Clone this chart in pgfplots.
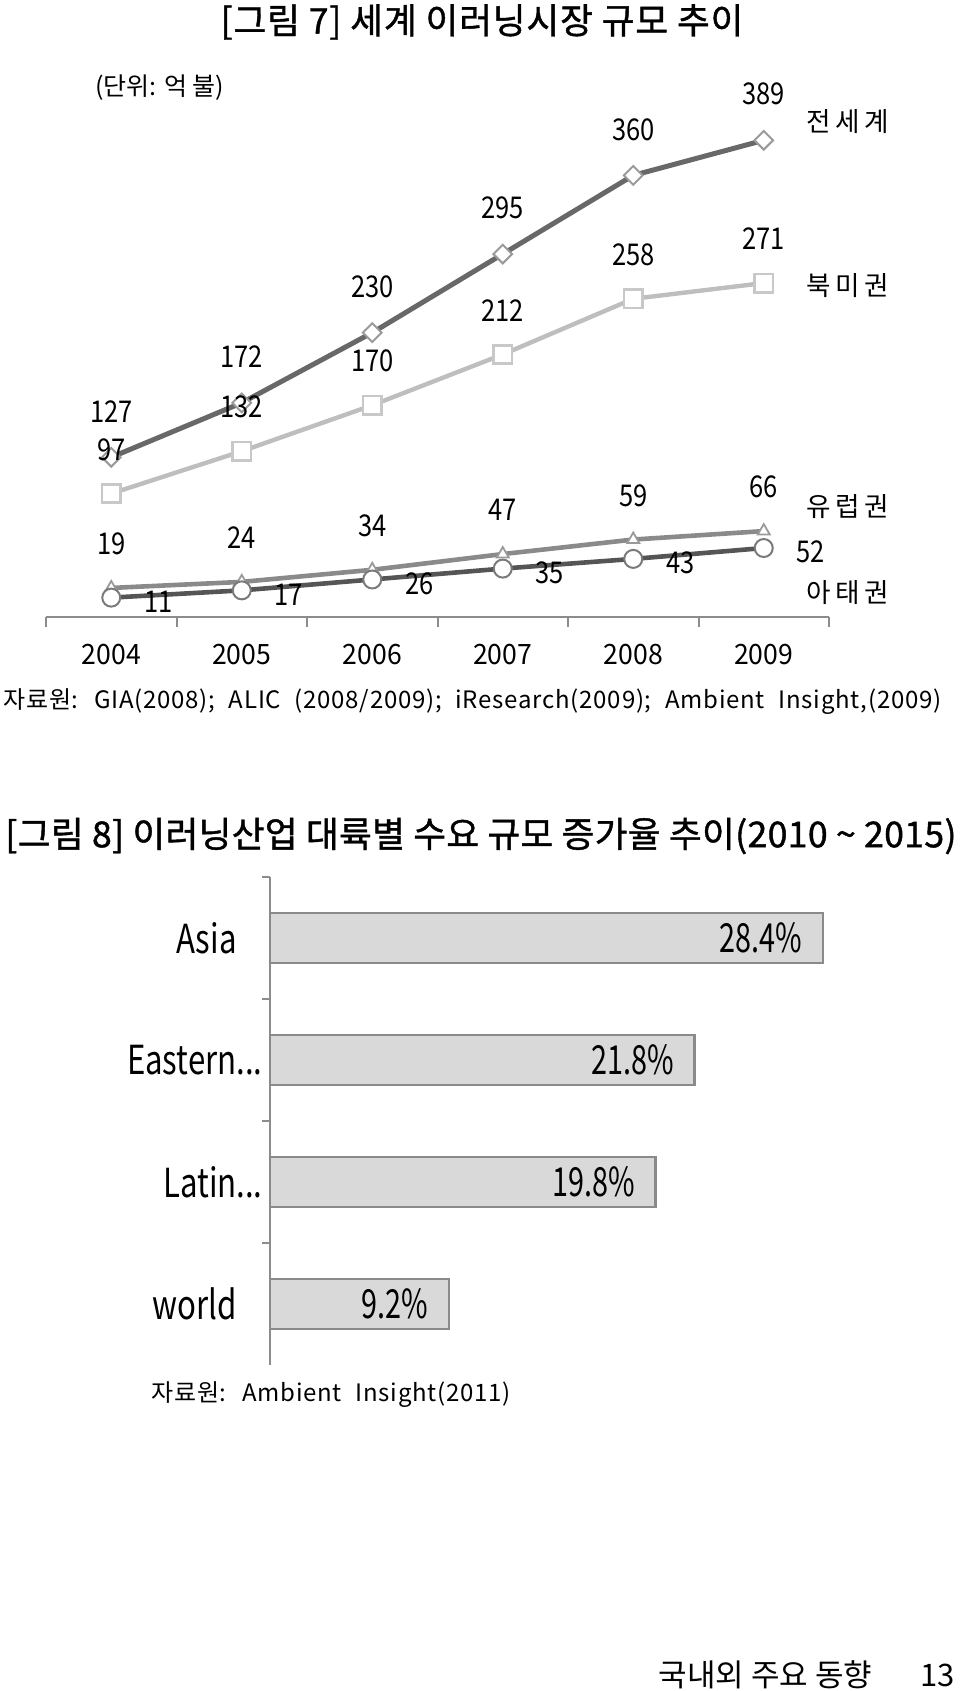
\documentclass[border=0pt]{standalone}
\usepackage{fontspec}
\usepackage{pgfplots}
\pgfplotsset{compat=1.18}
\setmainfont{Noto Sans CJK KR}
\newfontfamily\titlefont[FakeBold=1.2, LetterSpace=1]{Noto Sans CJK KR}
\newfontfamily\titlefontA[FakeBold=1.2, LetterSpace=2.5]{Noto Sans CJK KR}
\newfontfamily\numfont[FakeStretch=0.85]{Noto Sans CJK KR}
\newfontfamily\tickfont[FakeStretch=0.95]{Noto Sans CJK KR}
\newfontfamily\barfont[FakeStretch=0.72]{Noto Sans CJK KR}
\newfontfamily\catfont[FakeStretch=0.78]{Noto Sans CJK KR}
\newfontfamily\srcfont[LetterSpace=3.2, WordSpace=2.2]{Noto Sans CJK KR}
\definecolor{cWorld}{HTML}{686868}
\definecolor{cWorldM}{HTML}{9A9A9A}
\definecolor{cNA}{HTML}{BEBEBE}
\definecolor{cNAM}{HTML}{C8C8C8}
\definecolor{cEu}{HTML}{8A8A8A}
\definecolor{cEuM}{HTML}{9A9A9A}
\definecolor{cAP}{HTML}{555555}
\definecolor{cAPM}{HTML}{7A7A7A}
\definecolor{cAxis}{HTML}{8C8C8C}
\definecolor{cBar}{HTML}{D9D9D9}
\definecolor{cBarEdge}{HTML}{8A8A8A}
\begin{document}
\begin{tikzpicture}
\useasboundingbox (0,0) rectangle (480pt,845.5pt);
% ---- Figure 7 ----
\node[font=\titlefontA\fontsize{17.8}{20}\selectfont] at (241pt,834.5pt) {[그림 7] 세계 이러닝시장 규모 추이};
\node[font=\fontsize{12.5}{14}\selectfont] at (80pt,801.5pt) {(단위: 억 불)};
\begin{axis}[
  at={(23pt,537pt)}, anchor=south west, scale only axis,
  width=391.5pt, height=257.1pt,
  xmin=-0.5, xmax=5.5, ymin=-5, ymax=420, clip=false,
  axis x line=bottom, axis y line=none,
  axis line style={-, draw=cAxis, line width=1pt},
  xtick={0,1,2,3,4,5}, xticklabels={2004,2005,2006,2007,2008,2009},
  major tick length=0pt,
  xticklabel style={font=\tickfont\fontsize{14}{16}\selectfont, anchor=center, yshift=-19pt},
  extra x ticks={-0.5,0.5,1.5,2.5,3.5,4.5,5.5}, extra x tick labels={},
  extra x tick style={major tick length=5pt, tick align=outside, tick style={draw=cAxis, line width=1pt}},
  /pgf/number format/assume math mode=true,
  nodes near coords,
  every node near coord/.append style={font=\numfont\fontsize{15}{17}\selectfont, text=black, anchor=center},
]
\addplot[draw=cWorld, line width=2.5pt, mark=square*, mark size=3.3pt,
  mark options={fill=white, draw=cWorldM, line width=1pt, rotate=45},
  every node near coord/.append style={yshift=23pt}]
  coordinates {(0,127) (1,172) (2,230) (3,295) (4,360) (5,389)};
\addplot[draw=cNA, line width=2.2pt, mark=square*, mark size=4.6pt,
  mark options={fill=white, draw=cNAM, line width=1.3pt},
  every node near coord/.append style={yshift=22pt}]
  coordinates {(0,97) (1,132) (2,170) (3,212) (4,258) (5,271)};
\addplot[draw=cEu, line width=2.3pt, mark=triangle*, mark size=3.5pt,
  mark options={fill=white, draw=cEuM, line width=0.9pt},
  every node near coord/.append style={yshift=22pt}]
  coordinates {(0,19) (1,24) (2,34) (3,47) (4,59) (5,66)};
\addplot[draw=cAP, line width=2.3pt, mark=*, mark size=4.5pt,
  mark options={fill=white, draw=cAPM, line width=1pt},
  every node near coord/.append style={xshift=23.5pt, yshift=-2pt}]
  coordinates {(0,11) (1,17) (2,26) (3,35) (4,43) (5,52)};
\end{axis}
\node[font=\fontsize{13.3}{15}\selectfont] at (424pt,784.5pt) {전\hspace{2.2pt}세\hspace{2.2pt}계};
\node[font=\fontsize{13.3}{15}\selectfont] at (424pt,702.5pt) {북\hspace{2.2pt}미\hspace{2.2pt}권};
\node[font=\fontsize{13.3}{15}\selectfont] at (424pt,592pt) {유\hspace{2.2pt}럽\hspace{2.2pt}권};
\node[font=\fontsize{13.3}{15}\selectfont] at (424pt,549pt) {아\hspace{2.2pt}태\hspace{2.2pt}권};
\node[font=\srcfont\fontsize{12}{14}\selectfont, anchor=west, inner sep=0pt] at (1.5pt,494.5pt) {자료원: GIA(2008); ALIC (2008/2009); iResearch(2009); Ambient Insight,(2009)};
% ---- Figure 8 ----
\node[font=\titlefont\fontsize{17.8}{20}\selectfont, anchor=west, inner sep=0pt] at (2.5pt,427.5pt) {[그림 8] 이러닝산업 대륙별 수요 규모 증가율 추이(2010 \textasciitilde{} 2015)};
\begin{axis}[
  at={(135pt,163pt)}, anchor=south west, scale only axis,
  width=292pt, height=244pt,
  xmin=0, xmax=30, ymin=-0.5, ymax=3.5, y dir=reverse, clip=false,
  axis x line=none, axis y line=left,
  axis line style={-, draw=cAxis, line width=1.2pt},
  xbar, bar width=25pt, bar shift=0pt,
  ytick={0,1,2,3}, yticklabels={Asia,Eastern\rlap{...},Latin\rlap{...},world},
  major tick length=0pt,
  yticklabel style={font=\catfont\fontsize{20}{22}\selectfont, anchor=east, inner sep=0pt, xshift=-16.5pt},
  extra y ticks={-0.5,0.5,1.5,2.5}, extra y tick labels={},
  extra y tick style={major tick length=4pt, tick align=outside, tick style={draw=cAxis, line width=1.2pt}},
  point meta=x,
  nodes near coords={\pgfmathprintnumber[fixed,precision=1,fixed zerofill,assume math mode=true]{\pgfplotspointmeta}\%},
  every node near coord/.append style={font=\barfont\fontsize{20}{22}\selectfont, text=black, anchor=east, inner sep=0pt, xshift=-9.8pt},
]
\addplot[fill=cBar, draw=cBarEdge, line width=1.2pt]
  coordinates {(28.4,0) (21.8,1) (19.8,2) (9.2,3)};
\end{axis}
\node[font=\srcfont\fontsize{12}{14}\selectfont, anchor=west, inner sep=0pt] at (75.5pt,148pt) {자료원: Ambient Insight(2011)};
\node[font=\fontsize{15.5}{17}\selectfont, anchor=east, inner sep=0pt] at (477.5pt,8pt) {국내외 주요 동향\hspace{24pt}13};
\end{tikzpicture}
\end{document}
